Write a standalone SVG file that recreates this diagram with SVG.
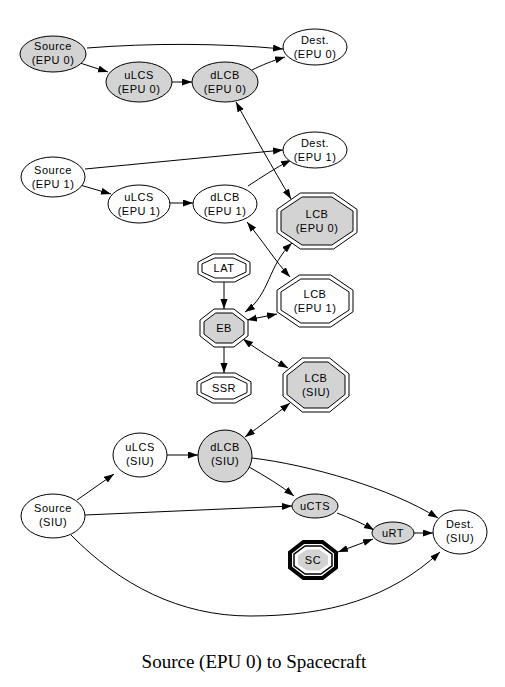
<svg xmlns="http://www.w3.org/2000/svg" width="505" height="687" viewBox="0 0 505 687">
<style>
.n{stroke:#000;stroke-width:1;fill:#fff}
.g{fill:#d3d3d3}
.t{font-family:"Liberation Sans",Arial,sans-serif;font-size:11px;letter-spacing:0.5px;text-anchor:middle;fill:#000}
.cap{font-family:"Liberation Serif","Times New Roman",serif;font-size:19px;text-anchor:middle;fill:#000}
.e{fill:none;stroke:#000;stroke-width:1;marker-end:url(#ah)}
.d{marker-start:url(#ah)}
</style>
<defs>
<marker id="ah" markerUnits="userSpaceOnUse" markerWidth="10" markerHeight="8" refX="10" refY="3.5" orient="auto-start-reverse"><path d="M0,0 L10,3.5 L0,7 z" fill="#000"/></marker>
</defs>
<rect width="505" height="687" fill="#fff"/>
<g id="edges">
<path class="e" d="M87,48 C150,43 220,43 283,49"/>
<path class="e" d="M80,63 L108,72"/>
<path class="e" d="M172,82 L192,82"/>
<path class="e" d="M252,70 C262,65 272,61 285,57"/>
<path class="e d" d="M236,102 C252,132 274,170 291,199"/>
<path class="e" d="M85,169 L283,150"/>
<path class="e" d="M80,185 L111,194"/>
<path class="e" d="M170,203 L193,203"/>
<path class="e" d="M248,186 C262,177 275,168 291,160"/>
<path class="e d" d="M247,222 C262,240 276,262 290,277"/>
<path class="e d" d="M292,243 C268,265 270,295 245,312"/>
<path class="e" d="M224,282 L224,309"/>
<path class="e d" d="M277,314 L247,320"/>
<path class="e" d="M224,347 L224,373"/>
<path class="e d" d="M243,339 C258,350 272,359 288,368"/>
<path class="e d" d="M290,403 C275,415 260,426 245,437"/>
<path class="e" d="M77,500 L114,474"/>
<path class="e" d="M167,455 L198,455"/>
<path class="e" d="M249,467 C265,476 280,485 294,496"/>
<path class="e" d="M252,458 C310,465 390,488 438,518"/>
<path class="e" d="M85,515 L292,506"/>
<path class="e" d="M337,513 C350,518 362,523 374,530"/>
<path class="e" d="M414,533 L433,533"/>
<path class="e d" d="M373,539 L338,552"/>
<path class="e" d="M71,535 C120,585 180,616 250,616 C330,616 390,598 440,552"/>
</g>
<g id="src0"><ellipse class="n g" cx="53" cy="54" rx="33" ry="18"/><text class="t" x="53" y="50">Source</text><text class="t" x="53" y="64">(EPU 0)</text></g>
<g id="dest0"><ellipse class="n" cx="315" cy="47" rx="32" ry="18"/><text class="t" x="315" y="44">Dest.</text><text class="t" x="315" y="58">(EPU 0)</text></g>
<g id="ulcs0"><ellipse class="n g" cx="139" cy="82" rx="33" ry="20"/><text class="t" x="139" y="79">uLCS</text><text class="t" x="139" y="93">(EPU 0)</text></g>
<g id="dlcb0"><ellipse class="n g" cx="225" cy="82" rx="33" ry="20"/><text class="t" x="225" y="79">dLCB</text><text class="t" x="225" y="93">(EPU 0)</text></g>
<g id="src1"><ellipse class="n" cx="53" cy="177" rx="32" ry="20"/><text class="t" x="53" y="174">Source</text><text class="t" x="53" y="188">(EPU 1)</text></g>
<g id="dest1"><ellipse class="n" cx="315" cy="150" rx="32" ry="18"/><text class="t" x="315" y="147">Dest.</text><text class="t" x="315" y="161">(EPU 1)</text></g>
<g id="ulcs1"><ellipse class="n" cx="139" cy="204" rx="31" ry="19"/><text class="t" x="139" y="201">uLCS</text><text class="t" x="139" y="215">(EPU 1)</text></g>
<g id="dlcb1"><ellipse class="n" cx="225" cy="204" rx="32" ry="19"/><text class="t" x="225" y="201">dLCB</text><text class="t" x="225" y="215">(EPU 1)</text></g>
<g id="lcb0"><polygon class="n" points="300.4,193 333.6,193 357,209.4 357,232.6 333.6,249 300.4,249 277,232.6 277,209.4"/><polygon class="n g" points="302.1,197 331.9,197 353,211.1 353,230.9 331.9,245 302.1,245 281,230.9 281,211.1"/><text class="t" x="317" y="218">LCB</text><text class="t" x="317" y="232">(EPU 0)</text></g>
<g id="lcb1"><polygon class="n" points="299.3,275 330.7,275 353,290.2 353,311.8 330.7,327 299.3,327 277,311.8 277,290.2"/><polygon class="n" points="300.9,279 329.1,279 349,291.9 349,310.1 329.1,323 300.9,323 281,310.1 281,291.9"/><text class="t" x="315" y="298">LCB</text><text class="t" x="315" y="312">(EPU 1)</text></g>
<g id="lcbsiu"><polygon class="n" points="302.3,358 329.7,358 349,373.8 349,396.2 329.7,412 302.3,412 283,396.2 283,373.8"/><polygon class="n g" points="304,362 328,362 345,375.5 345,394.5 328,408 304,408 287,394.5 287,375.5"/><text class="t" x="316" y="382">LCB</text><text class="t" x="316" y="396">(SIU)</text></g>
<g id="lat"><polygon class="n" points="213.2,254 234.8,254 250,262.2 250,273.8 234.8,282 213.2,282 198,273.8 198,262.2"/><polygon class="n" points="214.9,258 233.1,258 246,263.9 246,272.1 233.1,278 214.9,278 202,272.1 202,263.9"/><text class="t" x="224" y="272">LAT</text></g>
<g id="eb"><polygon class="n" points="214.1,309 233.9,309 248,320.1 248,335.9 233.9,347 214.1,347 200,335.9 200,320.1"/><polygon class="n g" points="215.7,313 232.3,313 244,321.8 244,334.2 232.3,343 215.7,343 204,334.2 204,321.8"/><text class="t" x="224" y="332">EB</text></g>
<g id="ssr"><polygon class="n" points="212.8,373 235.2,373 251,381.8 251,394.2 235.2,403 212.8,403 197,394.2 197,381.8"/><polygon class="n" points="214.5,377 233.5,377 247,383.4 247,392.6 233.5,399 214.5,399 201,392.6 201,383.4"/><text class="t" x="224" y="392">SSR</text></g>
<g id="ulcssiu"><ellipse class="n" cx="140" cy="455" rx="27" ry="22"/><text class="t" x="140" y="451">uLCS</text><text class="t" x="140" y="465">(SIU)</text></g>
<g id="dlcbsiu"><ellipse class="n g" cx="225" cy="456" rx="27" ry="26"/><text class="t" x="225" y="451">dLCB</text><text class="t" x="225" y="465">(SIU)</text></g>
<g id="srcsiu"><ellipse class="n" cx="53" cy="516" rx="32" ry="22"/><text class="t" x="53" y="512">Source</text><text class="t" x="53" y="526">(SIU)</text></g>
<g id="ucts"><ellipse class="n g" cx="315" cy="506" rx="23" ry="12"/><text class="t" x="315" y="510">uCTS</text></g>
<g id="urt"><ellipse class="n g" cx="393" cy="533" rx="21" ry="11"/><text class="t" x="393" y="537">uRT</text></g>
<g id="destsiu"><ellipse class="n" cx="460" cy="532" rx="27" ry="22"/><text class="t" x="460" y="528">Dest.</text><text class="t" x="460" y="542">(SIU)</text></g>
<g id="sc"><polygon points="303.5,542 322.5,542 336,552.5 336,567.5 322.5,578 303.5,578 290,567.5 290,552.5" fill="#fff" stroke="#000" stroke-width="4"/><polygon points="305.1,546 320.9,546 332,554.2 332,565.8 320.9,574 305.1,574 294,565.8 294,554.2" fill="#fff" stroke="#000" stroke-width="1.5"/><polygon points="306.8,549.5 319.2,549.5 328,555.6 328,564.4 319.2,570.5 306.8,570.5 298,564.4 298,555.6" fill="#d3d3d3"/><text class="t" x="313" y="564">SC</text></g>
<text class="cap" x="254" y="668">Source (EPU 0) to Spacecraft</text>
</svg>
